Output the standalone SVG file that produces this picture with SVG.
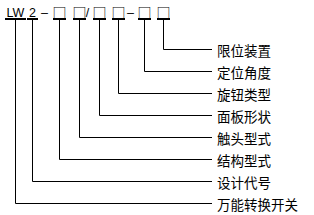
<svg xmlns="http://www.w3.org/2000/svg" width="314" height="215" viewBox="0 0 314 215">
<style>
.code{font-family:"Liberation Sans",Arial,sans-serif;font-size:12.5px;fill:#000;text-anchor:middle}
.box{font-family:"Noto Sans CJK SC","DejaVu Sans",sans-serif;font-size:14px;fill:#000;text-anchor:middle}
.lbl{font-family:"Noto Sans CJK SC","Noto Sans CJK JP",sans-serif;font-size:13.5px;fill:#000;dominant-baseline:central}
.bar{fill:#000}
.ln{fill:none;stroke:#000;stroke-width:1}
</style>
<rect width="314" height="215" fill="#fff"/>
<g id="code">
<text class="code" x="15.5" y="17">LW</text>
<text class="code" x="32.5" y="17">2</text>
<text class="code" x="44.5" y="17">–</text>
<text class="box" x="59.5" y="18">□</text>
<text class="box" x="79.5" y="18">□</text>
<text class="code" x="87.5" y="17">/</text>
<text class="box" x="99.5" y="18">□</text>
<text class="box" x="118.5" y="18">□</text>
<text class="code" x="130.5" y="17">–</text>
<text class="box" x="144.5" y="18">□</text>
<text class="box" x="163.5" y="18">□</text>
<rect class="bar" x="5" y="18" width="21" height="2"/>
<rect class="bar" x="27" y="18" width="11" height="2"/>
<rect class="bar" x="53" y="18" width="13" height="2"/>
<rect class="bar" x="73" y="18" width="13" height="2"/>
<rect class="bar" x="93" y="18" width="13" height="2"/>
<rect class="bar" x="112" y="18" width="13" height="2"/>
<rect class="bar" x="138" y="18" width="13" height="2"/>
<rect class="bar" x="157" y="18" width="13" height="2"/>
</g>
<g id="connectors">
<polyline class="ln" points="163.5,20 163.5,49.5 212,49.5"/>
<polyline class="ln" points="144.5,20 144.5,71.5 212,71.5"/>
<polyline class="ln" points="118.5,20 118.5,93.5 212,93.5"/>
<polyline class="ln" points="99.5,20 99.5,115.5 212,115.5"/>
<polyline class="ln" points="79.5,20 79.5,137.5 212,137.5"/>
<polyline class="ln" points="59.5,20 59.5,159.5 212,159.5"/>
<polyline class="ln" points="32.5,20 32.5,181.5 212,181.5"/>
<polyline class="ln" points="15.5,20 15.5,203.5 212,203.5"/>
</g>
<g id="n1"><text class="lbl" x="217" y="50">限位装置</text></g>
<g id="n2"><text class="lbl" x="217" y="72">定位角度</text></g>
<g id="n3"><text class="lbl" x="217" y="94">旋钮类型</text></g>
<g id="n4"><text class="lbl" x="217" y="116">面板形状</text></g>
<g id="n5"><text class="lbl" x="217" y="138">触头型式</text></g>
<g id="n6"><text class="lbl" x="217" y="160">结构型式</text></g>
<g id="n7"><text class="lbl" x="217" y="182">设计代号</text></g>
<g id="n8"><text class="lbl" x="217" y="204">万能转换开关</text></g>
</svg>
